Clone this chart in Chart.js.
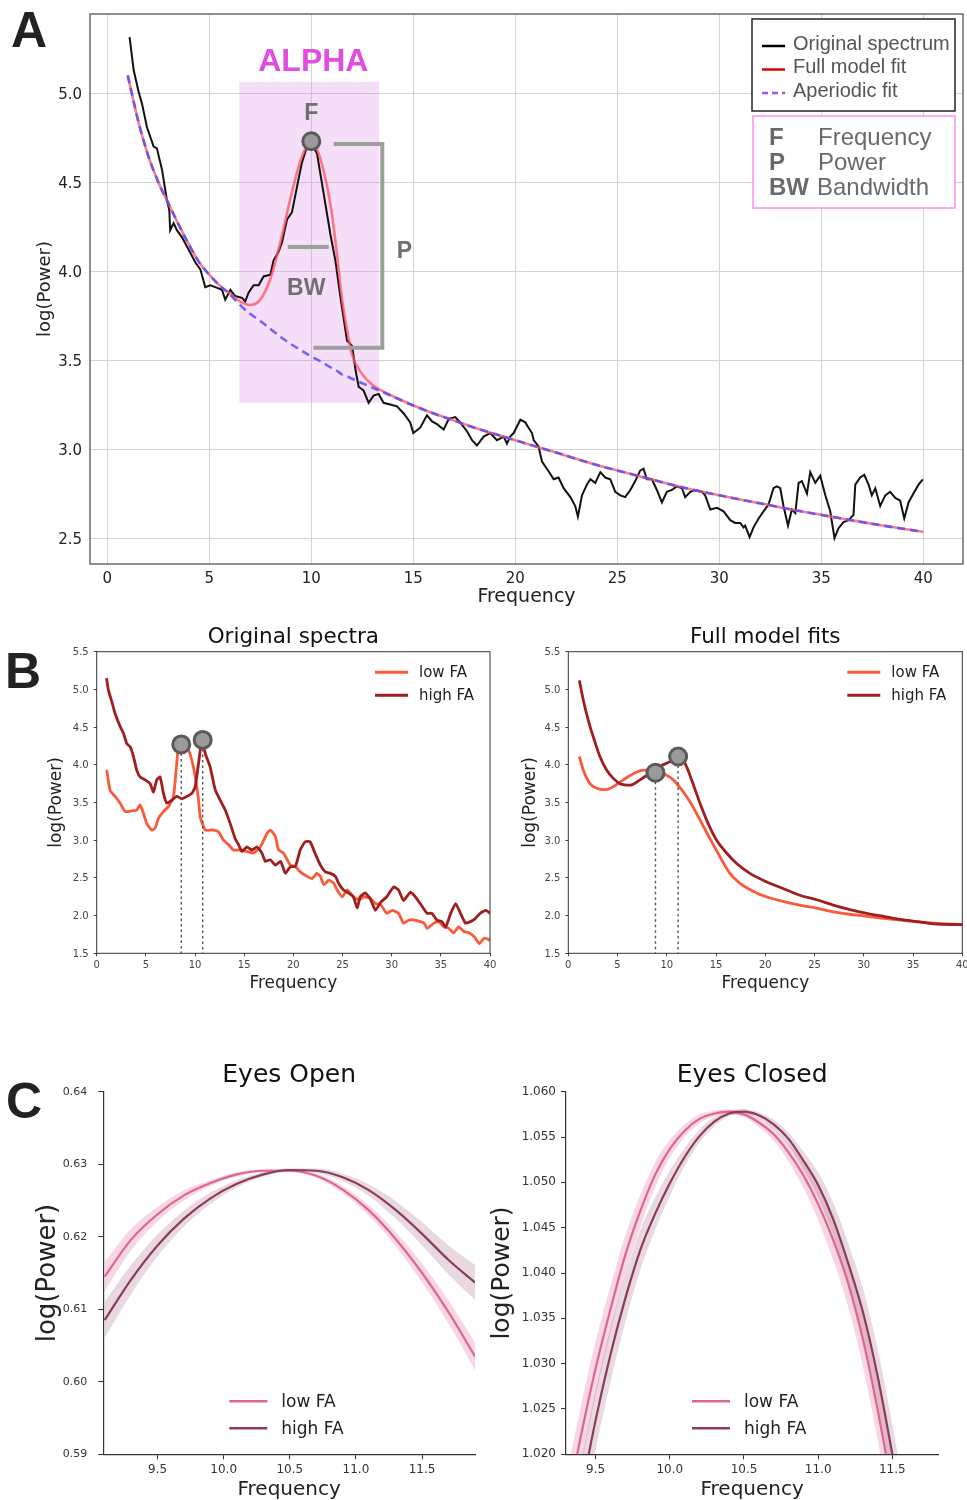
<!DOCTYPE html>
<html>
<head>
<meta charset="utf-8">
<script src="https://cdn.jsdelivr.net/npm/chart.js@4.4.0/dist/chart.umd.min.js"></script>
<style>
  html, body { margin: 0; padding: 0; width: 967px; height: 1500px; overflow: hidden; background: #fff; }
  .panel { position: absolute; }
  .letter { position: absolute; font-family: "Liberation Sans", Arial, sans-serif; font-weight: bold;
            font-size: 50px; line-height: 1; color: #222; }
</style>
</head>
<body>
<div class="letter" style="left:11px; top:5px">A</div>
<div class="letter" style="left:5px; top:646px">B</div>
<div class="letter" style="left:6px; top:1076px">C</div>

<div class="panel" style="left:0; top:0; width:967px; height:620px"><canvas id="chartA"></canvas></div>
<div class="panel" style="left:0; top:615px; width:500px; height:385px"><canvas id="chartB1"></canvas></div>
<div class="panel" style="left:500px; top:615px; width:467px; height:385px"><canvas id="chartB2"></canvas></div>
<div class="panel" style="left:0; top:1040px; width:480px; height:462px"><canvas id="chartC1"></canvas></div>
<div class="panel" style="left:480px; top:1040px; width:487px; height:462px"><canvas id="chartC2"></canvas></div>

<script>
// ---------- Panel A: one spectrum with its model fits ----------
const aOrigFreq = [
  1.09, 1.29, 1.53, 1.70, 1.94, 2.27, 2.43, 2.68, 2.92, 3.04,
  3.08, 3.25, 3.41, 3.66, 3.99, 4.31, 4.56, 4.80, 5.05, 5.29,
  5.62, 5.78, 6.03, 6.27, 6.60, 6.76, 6.93, 7.17, 7.42, 7.66,
  7.99, 8.15, 8.40, 8.56, 8.81, 9.05, 9.30, 9.54, 9.79, 9.95,
  10.28, 10.60, 10.93, 11.18, 11.42, 11.75, 12.00, 12.16, 12.32, 12.56,
  12.81, 13.05, 13.30, 13.54, 13.87, 14.20, 14.53, 14.85, 15.00, 15.34,
  15.67, 15.92, 16.16, 16.49, 16.74, 17.06, 17.30, 17.63, 17.88, 18.12,
  18.45, 18.77, 19.10, 19.43, 19.59, 19.75, 19.92, 20.25, 20.49, 20.65,
  20.82, 20.90, 21.14, 21.31, 21.63, 21.88, 22.12, 22.37, 22.70, 22.94,
  23.07, 23.27, 23.51, 23.68, 23.92, 24.17, 24.41, 24.66, 24.90, 25.15,
  25.39, 25.64, 25.88, 26.13, 26.29, 26.45, 26.70, 26.94, 27.19, 27.43,
  27.68, 27.92, 28.17, 28.33, 28.58, 28.82, 29.15, 29.31, 29.56, 29.89,
  30.21, 30.54, 30.78, 31.03, 31.19, 31.27, 31.49, 31.68, 31.93, 32.17,
  32.42, 32.66, 32.82, 32.99, 33.15, 33.37, 33.56, 33.73, 33.89, 34.05,
  34.30, 34.46, 34.71, 34.95, 35.20, 35.44, 35.65, 35.85, 36.09, 36.34,
  36.58, 36.67, 36.91, 37.11, 37.32, 37.48, 37.65, 37.89, 38.14, 38.38,
  38.63, 38.87, 39.07, 39.28, 39.52, 39.77, 39.98
];
const aOrigPower = [
  5.315, 5.13, 5.01, 4.94, 4.81, 4.70, 4.69, 4.57, 4.40, 4.34,
  4.23, 4.27, 4.23, 4.19, 4.12, 4.05, 4.01, 3.91, 3.92, 3.91,
  3.895, 3.84, 3.895, 3.86, 3.85, 3.83, 3.88, 3.92, 3.92, 3.97,
  3.98, 4.06, 4.11, 4.16, 4.29, 4.33, 4.475, 4.61, 4.70, 4.735,
  4.66, 4.44, 4.21, 4.06, 3.86, 3.61, 3.58, 3.45, 3.35, 3.33,
  3.26, 3.30, 3.31, 3.26, 3.25, 3.24, 3.20, 3.15, 3.09, 3.12,
  3.19, 3.155, 3.14, 3.11, 3.17, 3.18, 3.15, 3.10, 3.05, 3.02,
  3.07, 3.09, 3.05, 3.07, 3.03, 3.07, 3.09, 3.165, 3.15, 3.12,
  3.09, 3.05, 3.015, 2.93, 2.875, 2.83, 2.84, 2.78, 2.73, 2.68,
  2.62, 2.74, 2.80, 2.83, 2.81, 2.87, 2.84, 2.83, 2.76, 2.74,
  2.73, 2.77, 2.82, 2.88, 2.89, 2.83, 2.83, 2.77, 2.70, 2.76,
  2.77, 2.79, 2.78, 2.73, 2.76, 2.77, 2.76, 2.74, 2.66, 2.67,
  2.65, 2.60, 2.585, 2.585, 2.56, 2.57, 2.505, 2.56, 2.61, 2.65,
  2.69, 2.78, 2.79, 2.78, 2.68, 2.57, 2.66, 2.64, 2.81, 2.82,
  2.75, 2.87, 2.81, 2.85, 2.74, 2.65, 2.50, 2.555, 2.59, 2.60,
  2.63, 2.80, 2.84, 2.855, 2.80, 2.74, 2.78, 2.68, 2.74, 2.76,
  2.725, 2.71, 2.61, 2.70, 2.75, 2.80, 2.83
];
const aFitFreq = [1, 1.5, 2, 2.5, 3, 3.5, 4, 4.5, 5, 5.5, 6, 6.5, 7, 7.5, 8, 8.5, 9, 9.5, 10, 10.5,
  11, 11.25, 11.5, 11.75, 12, 12.5, 13, 13.5, 14, 15, 16, 17, 18, 19, 20, 22, 24, 26, 28, 30, 32, 34, 36, 38, 40];
const aAperiodic = [5.10, 4.85, 4.65, 4.50, 4.38, 4.26, 4.15, 4.05, 3.98, 3.92, 3.87, 3.81, 3.76, 3.72, 3.675, 3.63, 3.59, 3.555, 3.52, 3.49,
  3.455, 3.44, 3.42, 3.41, 3.395, 3.37, 3.345, 3.32, 3.295, 3.245, 3.20, 3.16, 3.12, 3.085, 3.05, 2.98, 2.91, 2.85, 2.79, 2.74, 2.695, 2.65, 2.61, 2.57, 2.535];
const aFullFit = [5.10, 4.85, 4.65, 4.50, 4.38, 4.26, 4.15, 4.05, 3.98, 3.92, 3.875, 3.83, 3.81, 3.84, 3.96, 4.17, 4.42, 4.63, 4.73, 4.61,
  4.33, 4.10, 3.85, 3.67, 3.53, 3.42, 3.36, 3.325, 3.297, 3.245, 3.20, 3.16, 3.12, 3.085, 3.05, 2.98, 2.91, 2.85, 2.79, 2.74, 2.695, 2.65, 2.61, 2.57, 2.535];
const aXTicks = [0, 5, 10, 15, 20, 25, 30, 35, 40];
const aYTicks = [2.5, 3.0, 3.5, 4.0, 4.5, 5.0];
const alphaFreq = [6.47, 13.33];
const alphaPower = [3.26, 5.064];
const peakFreq = 10.0, peakPower = 4.73;
const bwFreq = [8.85, 10.85], bwPower = 4.135;
const pPower = [4.715, 3.57];

// ---------- Panel B: low vs high FA ----------
const bOrigLowFreq = [1.02, 1.36, 1.87, 2.38, 2.89, 3.57, 4.07, 4.41, 4.75, 5.09,
  5.60, 5.94, 6.28, 6.79, 7.30, 7.81, 8.08, 8.25, 8.6, 9.0,
  9.34, 9.68, 10.02, 10.36, 10.53, 11.04, 11.88, 12.39, 12.9, 13.41,
  13.92, 14.6, 15.28, 15.96, 16.64, 17.32, 17.66, 18.17, 18.5, 19.0,
  19.69, 20.2, 20.7, 21.4, 21.9, 22.4, 22.75, 23.1, 23.6, 24.1,
  24.45, 24.96, 25.5, 26.1, 26.65, 27.2, 27.8, 28.35, 28.9, 29.5,
  30.05, 30.7, 31.2, 31.75, 32.4, 33.3, 33.6, 34.3, 34.8, 35.3,
  35.8, 36.3, 36.8, 37.35, 37.9, 38.4, 38.9, 39.4, 39.9, 40.0];
const bOrigLow = [3.93, 3.66, 3.58, 3.49, 3.38, 3.39, 3.40, 3.47, 3.36, 3.22,
  3.135, 3.16, 3.29, 3.38, 3.445, 3.58, 3.93, 4.17, 4.30, 4.28,
  4.20, 4.06, 3.84, 3.53, 3.31, 3.135, 3.135, 3.11, 3.00, 2.94,
  2.87, 2.87, 2.85, 2.83, 2.91, 3.09, 3.135, 3.05, 2.87, 2.83,
  2.67, 2.65, 2.58, 2.52, 2.49, 2.56, 2.52, 2.41, 2.47, 2.43,
  2.34, 2.25, 2.34, 2.25, 2.21, 2.25, 2.23, 2.16, 2.14, 2.03,
  2.07, 2.03, 1.90, 1.94, 1.94, 1.90, 1.83, 1.90, 1.92, 1.85,
  1.83, 1.77, 1.85, 1.79, 1.77, 1.72, 1.63, 1.70, 1.68, 1.66];
const bOrigHighFreq = [1.0, 1.19, 1.53, 1.87, 2.38, 2.72, 3.06, 3.40, 3.74, 4.07,
  4.41, 4.92, 5.43, 5.77, 6.11, 6.45, 6.79, 7.13, 7.64, 8.15,
  8.66, 9.17, 9.68, 10.02, 10.36, 10.70, 11.04, 11.54, 12.05, 12.56,
  13.07, 13.58, 14.09, 14.43, 14.77, 15.28, 15.79, 16.3, 16.8, 17.15,
  17.66, 18.17, 18.7, 19.2, 19.7, 20.2, 20.7, 21.2, 21.7, 22.2,
  22.75, 23.26, 23.77, 24.28, 24.6, 25.1, 25.6, 26.1, 26.5, 26.8,
  27.3, 27.8, 28.35, 28.9, 29.5, 30.2, 30.7, 31.2, 31.9, 32.4,
  32.9, 33.6, 34.1, 34.6, 35.1, 35.5, 36.0, 36.5, 37.0, 37.5,
  38.0, 38.5, 39.0, 39.6, 40.0];
const bOrigHigh = [5.15, 4.99, 4.84, 4.68, 4.51, 4.42, 4.28, 4.24, 4.11, 3.93,
  3.84, 3.80, 3.75, 3.64, 3.80, 3.84, 3.62, 3.49, 3.53, 3.58,
  3.55, 3.58, 3.62, 3.71, 4.02, 4.33, 4.15, 3.97, 3.67, 3.53,
  3.40, 3.22, 3.02, 2.94, 2.85, 2.91, 2.87, 2.91, 2.83, 2.72,
  2.74, 2.67, 2.72, 2.56, 2.65, 2.65, 2.87, 2.98, 2.98, 2.83,
  2.67, 2.58, 2.56, 2.52, 2.43, 2.34, 2.30, 2.25, 2.10, 2.25,
  2.30, 2.23, 2.07, 2.18, 2.25, 2.38, 2.34, 2.20, 2.31, 2.25,
  2.16, 2.03, 2.03, 1.94, 1.92, 1.85, 2.03, 2.16, 2.03, 1.90,
  1.92, 1.96, 2.03, 2.07, 2.03];
const bFitLowFreq = [1.12, 1.52, 2.2, 2.88, 3.72, 4.57, 5.58, 6.6, 7.6, 8.8,
  9.98, 10.66, 11.5, 12.35, 13.37, 14.38, 15.4, 16.4, 17.4, 18.8,
  20.1, 21.8, 23.5, 25.2, 26.9, 30.3, 33.7, 37.1, 40];
const bFitLow = [4.11, 3.93, 3.75, 3.69, 3.67, 3.71, 3.80, 3.88, 3.93, 3.92,
  3.86, 3.80, 3.67, 3.51, 3.27, 3.02, 2.78, 2.56, 2.43, 2.32,
  2.25, 2.19, 2.14, 2.10, 2.05, 1.99, 1.94, 1.90, 1.88];
const bFitHighFreq = [1.12, 1.52, 2.03, 2.54, 3.21, 3.89, 4.57, 5.25, 6.26, 7.28,
  8.29, 9.31, 10.32, 11.17, 11.84, 12.52, 13.37, 14.2, 15.06, 16.07,
  17.09, 18.44, 20.1, 21.8, 23.5, 25.2, 26.9, 28.6, 30.3, 32.0,
  33.7, 35.4, 37.1, 40];
const bFitHigh = [5.12, 4.86, 4.59, 4.37, 4.11, 3.93, 3.82, 3.75, 3.73, 3.80,
  3.89, 3.98, 4.04, 4.10, 4.02, 3.80, 3.49, 3.22, 3.00, 2.83,
  2.69, 2.56, 2.45, 2.36, 2.27, 2.21, 2.14, 2.08, 2.03, 1.99,
  1.95, 1.92, 1.89, 1.88];
const bPeakOrigFreq = [8.6, 10.78], bPeakOrigPower = [4.27, 4.33];
const bPeakFitFreq = [8.85, 11.15], bPeakFitPower = [3.895, 4.11];
const bXTicks = [0, 5, 10, 15, 20, 25, 30, 35, 40];
const bYTicks = [1.5, 2.0, 2.5, 3.0, 3.5, 4.0, 4.5, 5.0, 5.5];

// ---------- Panel C: alpha peak close-ups ----------
const eoFreq = [9.1, 9.3, 9.5, 9.7, 9.9, 10.1, 10.3, 10.5, 10.7, 10.9, 11.1, 11.3, 11.5, 11.7, 11.9];
const eoLow = [0.6145, 0.6196, 0.6231, 0.6257, 0.6274, 0.6286, 0.6291, 0.6291, 0.6284, 0.6265, 0.6236, 0.6197, 0.6150, 0.6096, 0.6035];
const eoLowErr = [0.0020, 0.0015, 0.0010, 0.0007, 0.0004, 0.0003, 0.0002, 0.0002, 0.0003, 0.0005, 0.0007, 0.0010, 0.0013, 0.0016, 0.0019];
const eoHigh = [0.6085, 0.6141, 0.6188, 0.6225, 0.6253, 0.6273, 0.6286, 0.6292, 0.6291, 0.6282, 0.6264, 0.6237, 0.6204, 0.6168, 0.6137];
const eoHighErr = [0.0025, 0.0020, 0.0015, 0.0011, 0.0008, 0.0005, 0.0003, 0.0002, 0.0003, 0.0005, 0.0008, 0.0012, 0.0016, 0.0020, 0.0024];
const eoXTicks = [9.5, 10.0, 10.5, 11.0, 11.5];
const eoYTicks = [0.59, 0.60, 0.61, 0.62, 0.63, 0.64];

const ecFreq = [9.3, 9.4, 9.5, 9.6, 9.7, 9.8, 9.9, 10.0, 10.1, 10.2, 10.3, 10.4,
  10.5, 10.6, 10.7, 10.8, 10.9, 11.0, 11.1, 11.2, 11.3, 11.4, 11.5, 11.6];
const ecLow = [1.0138, 1.0220, 1.0295, 1.0360, 1.0420, 1.0468, 1.0508, 1.0537, 1.0557, 1.0570, 1.0576, 1.0578,
  1.0575, 1.0566, 1.0553, 1.0533, 1.0508, 1.0476, 1.0437, 1.0390, 1.0328, 1.0250, 1.0160, 1.0060];
const ecLowErr = [0.0036, 0.0033, 0.0030, 0.0026, 0.0022, 0.0018, 0.0014, 0.0010, 0.0007, 0.0005, 0.0003, 0.0003,
  0.0003, 0.0005, 0.0007, 0.0010, 0.0014, 0.0018, 0.0022, 0.0026, 0.0030, 0.0033, 0.0036, 0.0038];
const ecHigh = [1.0070, 1.0155, 1.0238, 1.0310, 1.0372, 1.0425, 1.0465, 1.0499, 1.0528, 1.0551, 1.0567, 1.0576,
  1.0578, 1.0574, 1.0564, 1.0548, 1.0524, 1.0497, 1.0460, 1.0412, 1.0358, 1.0287, 1.0200, 1.0105];
const ecHighErr = [0.0038, 0.0036, 0.0033, 0.0030, 0.0026, 0.0022, 0.0018, 0.0014, 0.0010, 0.0007, 0.0005, 0.0003,
  0.0003, 0.0003, 0.0005, 0.0007, 0.0010, 0.0014, 0.0018, 0.0022, 0.0026, 0.0030, 0.0033, 0.0036];
const ecXTicks = [9.5, 10.0, 10.5, 11.0, 11.5];
const ecYTicks = [1.020, 1.025, 1.030, 1.035, 1.040, 1.045, 1.050, 1.055, 1.060];

// colours
const LOW_B = '#fb5a3a', HIGH_B = '#a11e1e';
const LOW_C = '#df6490', HIGH_C = '#8b3c5d';

Chart.defaults.font.family = 'DejaVu Sans';
Chart.defaults.animation = false;

function pts(xs, ys) { return xs.map((x, i) => ({ x: x, y: ys[i] })); }
function plus(ys, es, sign) { return ys.map((v, i) => v + sign * es[i]); }

// fix the axis box size so the plot areas land where the figure has them
function fixAxis(size) {
  return function (scale) {
    if (scale.isHorizontal()) scale.height = size; else scale.width = size;
    scale.paddingLeft = 0; scale.paddingRight = 0; scale.paddingTop = 0; scale.paddingBottom = 0;
  };
}
function useTicks(values) {
  return function (scale) { scale.ticks = values.map(v => ({ value: v })); };
}

function frame(color, width) {
  return {
    id: 'frame',
    afterDatasetsDraw(chart) {
      const { ctx, chartArea: a } = chart;
      ctx.save();
      ctx.strokeStyle = color; ctx.lineWidth = width;
      ctx.strokeRect(a.left, a.top, a.right - a.left, a.bottom - a.top);
      ctx.restore();
    }
  };
}

function lineLegend(items, fromRight, rows, font) {
  // items: [{label, color, width, dash}]
  return {
    id: 'lineLegend',
    afterDatasetsDraw(chart) {
      const { ctx, chartArea: a } = chart;
      ctx.save();
      ctx.font = font;
      ctx.textBaseline = 'middle';
      ctx.fillStyle = '#222';
      items.forEach((it, i) => {
        const x0 = fromRight ? a.right + fromRight[0] : a.left + rows.left[0];
        const x1 = fromRight ? a.right + fromRight[1] : a.left + rows.left[1];
        const xt = fromRight ? a.right + fromRight[2] : a.left + rows.left[2];
        const y = fromRight ? a.top + rows[i] : a.bottom + rows.y[i];
        ctx.strokeStyle = it.color; ctx.lineWidth = it.width; ctx.setLineDash(it.dash || []);
        ctx.beginPath(); ctx.moveTo(x0, y); ctx.lineTo(x1, y); ctx.stroke();
        ctx.fillText(it.label, xt, y + 1);
      });
      ctx.restore();
    }
  };
}

function peaks(freqs, pows) {
  return {
    id: 'peaks',
    afterDatasetsDraw(chart) {
      const { ctx, chartArea: a, scales: { x, y } } = chart;
      ctx.save();
      ctx.strokeStyle = '#555'; ctx.lineWidth = 1.4; ctx.setLineDash([2.5, 3]);
      freqs.forEach((f, i) => {
        const px = x.getPixelForValue(f), py = y.getPixelForValue(pows[i]);
        ctx.beginPath(); ctx.moveTo(px, py + 9); ctx.lineTo(px, a.bottom); ctx.stroke();
      });
      ctx.setLineDash([]);
      freqs.forEach((f, i) => {
        const px = x.getPixelForValue(f), py = y.getPixelForValue(pows[i]);
        ctx.beginPath(); ctx.arc(px, py, 8.5, 0, Math.PI * 2);
        ctx.fillStyle = '#9a9a9a'; ctx.fill();
        ctx.lineWidth = 3; ctx.strokeStyle = '#5a5a5a'; ctx.stroke();
      });
      ctx.restore();
    }
  };
}

// ---------- Chart A ----------
const alphaDecor = {
  id: 'alphaDecor',
  beforeDatasetsDraw(chart) {
    const { ctx, scales: { x, y } } = chart;
    const x0 = x.getPixelForValue(alphaFreq[0]), x1 = x.getPixelForValue(alphaFreq[1]);
    const y0 = y.getPixelForValue(alphaPower[1]), y1 = y.getPixelForValue(alphaPower[0]);
    ctx.save();
    ctx.fillStyle = 'rgba(214,128,226,0.25)';
    ctx.fillRect(x0, y0, x1 - x0, y1 - y0);
    ctx.restore();
  },
  afterDatasetsDraw(chart) {
    const { ctx, chartArea: a, scales: { x, y } } = chart;
    ctx.save();
    // P bracket and BW bar
    ctx.strokeStyle = '#9e9e9e'; ctx.lineWidth = 4; ctx.lineCap = 'butt';
    const px = x.getPixelForValue(13.48);
    ctx.beginPath();
    ctx.moveTo(x.getPixelForValue(11.1), y.getPixelForValue(pPower[0]));
    ctx.lineTo(px, y.getPixelForValue(pPower[0]));
    ctx.lineTo(px, y.getPixelForValue(pPower[1]));
    ctx.lineTo(x.getPixelForValue(10.1), y.getPixelForValue(pPower[1]));
    ctx.stroke();
    ctx.beginPath();
    ctx.moveTo(x.getPixelForValue(bwFreq[0]), y.getPixelForValue(bwPower));
    ctx.lineTo(x.getPixelForValue(bwFreq[1]), y.getPixelForValue(bwPower));
    ctx.stroke();
    // peak marker
    const cx = x.getPixelForValue(peakFreq), cy = y.getPixelForValue(peakPower);
    ctx.beginPath(); ctx.arc(cx, cy, 8.5, 0, Math.PI * 2);
    ctx.fillStyle = '#9a9a9a'; ctx.fill();
    ctx.lineWidth = 3; ctx.strokeStyle = '#5a5a5a'; ctx.stroke();
    // labels
    ctx.textAlign = 'center'; ctx.textBaseline = 'middle';
    ctx.fillStyle = '#707070';
    ctx.font = 'bold 23px "Liberation Sans", Arial, sans-serif';
    ctx.fillText('F', cx, y.getPixelForValue(4.895) + 2);
    ctx.fillText('BW', x.getPixelForValue(9.75), y.getPixelForValue(3.91) + 2);
    ctx.fillText('P', x.getPixelForValue(14.56), y.getPixelForValue(4.12) + 2);
    ctx.fillStyle = '#e04de0';
    ctx.font = 'bold 32px "Liberation Sans", Arial, sans-serif';
    ctx.fillText('ALPHA', x.getPixelForValue(10.1), y.getPixelForValue(5.187) + 2);

    // legend box 1
    const lx = a.right - 211, ly = a.top + 5;
    ctx.fillStyle = '#fff';
    ctx.fillRect(lx, ly, 203, 92);
    ctx.strokeStyle = '#222'; ctx.lineWidth = 1.5;
    ctx.strokeRect(lx, ly, 203, 92);
    const leg = [
      { t: 'Original spectrum', c: '#000', d: [] },
      { t: 'Full model fit', c: '#d80000', d: [] },
      { t: 'Aperiodic fit', c: '#9b55f0', d: [6, 4] }
    ];
    ctx.font = '20px "Liberation Sans", Arial, sans-serif';
    ctx.textAlign = 'left';
    leg.forEach((it, i) => {
      const yy = ly + 26 + i * 23.5;
      ctx.strokeStyle = it.c; ctx.lineWidth = 2.5; ctx.setLineDash(it.d);
      ctx.beginPath(); ctx.moveTo(lx + 10, yy + 1); ctx.lineTo(lx + 33, yy + 1); ctx.stroke();
      ctx.fillStyle = '#555';
      ctx.fillText(it.t, lx + 41, yy - 1);
    });
    ctx.setLineDash([]);
    // legend box 2
    const my = a.top + 102;
    ctx.fillStyle = '#fff';
    ctx.fillRect(lx + 1, my, 202, 92);
    ctx.strokeStyle = '#ff8cf5'; ctx.lineWidth = 1.5;
    ctx.strokeRect(lx + 1, my, 202, 92);
    const key = [['F', 'Frequency'], ['P', 'Power'], ['BW', 'Bandwidth']];
    key.forEach((k, i) => {
      const yy = my + 22 + i * 25;
      ctx.fillStyle = '#6a6a6a';
      ctx.font = 'bold 24px "Liberation Sans", Arial, sans-serif';
      ctx.fillText(k[0], lx + 17, yy);
      ctx.font = '24px "Liberation Sans", Arial, sans-serif';
      ctx.fillText(k[1], lx + 66 - (i === 2 ? 1 : 0), yy);
    });
    ctx.restore();
  }
};

new Chart(document.getElementById('chartA'), {
  type: 'line',
  data: {
    datasets: [
      { label: 'Aperiodic fit', data: pts(aFitFreq, aAperiodic), borderColor: 'rgba(92,78,245,0.85)',
        borderWidth: 2.6, borderDash: [8, 5], pointRadius: 0, cubicInterpolationMode: 'monotone', order: 0 },
      { label: 'Full model fit', data: pts(aFitFreq, aFullFit), borderColor: 'rgba(255,80,95,0.75)',
        borderWidth: 2.6, pointRadius: 0, cubicInterpolationMode: 'monotone', order: 1 },
      { label: 'Original spectrum', data: pts(aOrigFreq, aOrigPower), borderColor: '#111',
        borderWidth: 2, pointRadius: 0, tension: 0, order: 2 }
    ]
  },
  options: {
    responsive: true, maintainAspectRatio: false,
    layout: { padding: { left: 0, right: 4, top: 14, bottom: 0 } },
    plugins: { legend: { display: false }, tooltip: { enabled: false } },
    scales: {
      x: {
        type: 'linear', min: -0.85, max: 41.95,
        afterBuildTicks: useTicks(aXTicks), afterFit: fixAxis(56),
        grid: { color: '#d3d3d3', lineWidth: 1, tickLength: 4, tickColor: 'rgba(0,0,0,0)' },
        border: { display: false },
        ticks: { font: { size: 15 }, color: '#222', padding: 2, maxRotation: 0 },
        title: { display: true, text: 'Frequency', font: { size: 19 }, color: '#222', padding: { top: 0, bottom: 11.6 } }
      },
      y: {
        type: 'linear', min: 2.354, max: 5.445,
        afterBuildTicks: useTicks(aYTicks), afterFit: fixAxis(90),
        grid: { color: '#d3d3d3', lineWidth: 1, tickLength: 5, tickColor: 'rgba(0,0,0,0)' },
        border: { display: false },
        ticks: { font: { size: 15 }, color: '#222', padding: 3, labelOffset: 2, callback: v => v.toFixed(1) },
        title: { display: true, text: 'log(Power)', font: { size: 18 }, color: '#222', padding: { top: 34.2, bottom: 0 } }
      }
    }
  },
  plugins: [alphaDecor, frame('#555', 1.3)]
});

// ---------- Chart B ----------
function bOptions(title, yAxisWidth, yTitlePad, rightPad) {
  return {
    responsive: true, maintainAspectRatio: false,
    layout: { padding: { left: 0, right: rightPad, top: 0, bottom: 0 } },
    plugins: {
      legend: { display: false }, tooltip: { enabled: false },
      title: { display: true, text: title, fullSize: false, color: '#111',
               font: { size: 21.5, weight: 'normal' }, padding: { top: 9.1, bottom: 1.8 } }
    },
    scales: {
      x: {
        type: 'linear', min: 0, max: 40,
        afterBuildTicks: useTicks(bXTicks), afterFit: fixAxis(46.7),
        grid: { drawOnChartArea: false, tickLength: 3, color: '#444' },
        border: { display: false },
        ticks: { font: { size: 10 }, color: '#444', padding: 3, maxRotation: 0 },
        title: { display: true, text: 'Frequency', font: { size: 17 }, color: '#222', padding: { top: 0, bottom: 6.5 } }
      },
      y: {
        type: 'linear', min: 1.5, max: 5.5,
        afterBuildTicks: useTicks(bYTicks), afterFit: fixAxis(yAxisWidth),
        grid: { drawOnChartArea: false, tickLength: 3, color: '#444' },
        border: { display: false },
        ticks: { font: { size: 10 }, color: '#444', padding: 5, labelOffset: 1, callback: v => v.toFixed(1) },
        title: { display: true, text: 'log(Power)', font: { size: 17 }, color: '#222', padding: { top: yTitlePad, bottom: 0 } }
      }
    }
  };
}
const bLegendItems = [
  { label: 'low FA', color: LOW_B, width: 3 },
  { label: 'high FA', color: HIGH_B, width: 3 }
];

new Chart(document.getElementById('chartB1'), {
  type: 'line',
  data: {
    datasets: [
      { label: 'low FA', data: pts(bOrigLowFreq, bOrigLow), borderColor: LOW_B, borderWidth: 2.8, pointRadius: 0, tension: 0.15, order: 1 },
      { label: 'high FA', data: pts(bOrigHighFreq, bOrigHigh), borderColor: HIGH_B, borderWidth: 2.8, pointRadius: 0, tension: 0.15, order: 0 }
    ]
  },
  options: bOptions('Original spectra', 96.7, 46.8, 10),
  plugins: [frame('#333', 1), peaks(bPeakOrigFreq, bPeakOrigPower),
            lineLegend(bLegendItems, [-115, -82, -71], [20.5, 43.5], '15px "DejaVu Sans"')]
});

new Chart(document.getElementById('chartB2'), {
  type: 'line',
  data: {
    datasets: [
      { label: 'low FA', data: pts(bFitLowFreq, bFitLow), borderColor: LOW_B, borderWidth: 2.8, pointRadius: 0, cubicInterpolationMode: 'monotone', order: 1 },
      { label: 'high FA', data: pts(bFitHighFreq, bFitHigh), borderColor: HIGH_B, borderWidth: 2.8, pointRadius: 0, cubicInterpolationMode: 'monotone', order: 0 }
    ]
  },
  options: bOptions('Full model fits', 68.3, 20.6, 4.7),
  plugins: [frame('#333', 1), peaks(bPeakFitFreq, bPeakFitPower),
            lineLegend(bLegendItems, [-115, -82, -71], [20.5, 43.5], '15px "DejaVu Sans"')]
});

// ---------- Chart C ----------
function cDatasets(freq, low, lowErr, high, highErr) {
  return [
    { label: 'low band hi', data: pts(freq, plus(low, lowErr, 1)), borderWidth: 0, pointRadius: 0,
      cubicInterpolationMode: 'monotone', backgroundColor: 'rgba(228,112,155,0.28)', fill: '+1', order: 5 },
    { label: 'low band lo', data: pts(freq, plus(low, lowErr, -1)), borderWidth: 0, pointRadius: 0,
      cubicInterpolationMode: 'monotone', fill: false, order: 5 },
    { label: 'high band hi', data: pts(freq, plus(high, highErr, 1)), borderWidth: 0, pointRadius: 0,
      cubicInterpolationMode: 'monotone', backgroundColor: 'rgba(140,62,95,0.2)', fill: '+1', order: 4 },
    { label: 'high band lo', data: pts(freq, plus(high, highErr, -1)), borderWidth: 0, pointRadius: 0,
      cubicInterpolationMode: 'monotone', fill: false, order: 4 },
    { label: 'low FA', data: pts(freq, low), borderColor: LOW_C, borderWidth: 2.2, pointRadius: 0,
      cubicInterpolationMode: 'monotone', fill: false, order: 1 },
    { label: 'high FA', data: pts(freq, high), borderColor: HIGH_C, borderWidth: 2.2, pointRadius: 0,
      cubicInterpolationMode: 'monotone', fill: false, order: 0 }
  ];
}
function cOptions(title, xr, yr, xTicks, yTicks, yDigits, yAxisWidth, yTitlePad, yTitleSize, yTickSize, yTickPad, rightPad) {
  return {
    responsive: true, maintainAspectRatio: false,
    layout: { padding: { left: 0, right: rightPad, top: 0, bottom: 0 } },
    plugins: {
      legend: { display: false }, tooltip: { enabled: false },
      title: { display: true, text: title, fullSize: false, color: '#111',
               font: { size: 25, weight: 'normal' }, padding: { top: 20, bottom: 1.7 } }
    },
    scales: {
      x: {
        type: 'linear', min: xr[0], max: xr[1],
        afterBuildTicks: useTicks(xTicks), afterFit: fixAxis(47.7),
        grid: { drawOnChartArea: false, tickLength: 5, color: '#333' },
        border: { display: true, color: '#333', width: 1.2 },
        ticks: { font: { size: 12 }, color: '#333', padding: 3, maxRotation: 0, callback: v => v.toFixed(1) },
        title: { display: true, text: 'Frequency', font: { size: 20 }, color: '#222', padding: { top: 0, bottom: 0 } }
      },
      y: {
        type: 'linear', min: yr[0], max: yr[1],
        afterBuildTicks: useTicks(yTicks), afterFit: fixAxis(yAxisWidth),
        grid: { drawOnChartArea: false, tickLength: 5, color: '#333' },
        border: { display: true, color: '#333', width: 1.2 },
        ticks: { font: { size: yTickSize }, color: '#333', padding: yTickPad, callback: v => v.toFixed(yDigits) },
        title: { display: true, text: 'log(Power)', font: { size: yTitleSize }, color: '#222', padding: { top: yTitlePad, bottom: 0 } }
      }
    }
  };
}
const cLegendItems = [
  { label: 'low FA', color: LOW_C, width: 2.5 },
  { label: 'high FA', color: HIGH_C, width: 2.5 }
];
const cLegendRows = { left: [126, 164, 178], y: [-53, -26] };

new Chart(document.getElementById('chartC1'), {
  type: 'line',
  data: { datasets: cDatasets(eoFreq, eoLow, eoLowErr, eoHigh, eoHighErr) },
  options: cOptions('Eyes Open', [9.09, 11.9], [0.59, 0.64], eoXTicks, eoYTicks, 2, 103.3, 32.4, 26, 11, 11, 5),
  plugins: [lineLegend(cLegendItems, null, cLegendRows, '17px "DejaVu Sans"')]
});

new Chart(document.getElementById('chartC2'), {
  type: 'line',
  data: { datasets: cDatasets(ecFreq, ecLow, ecLowErr, ecHigh, ecHighErr) },
  options: cOptions('Eyes Closed', [9.3, 11.81], [1.020, 1.060], ecXTicks, ecYTicks, 3, 86, 7, 25, 12, 5, 28.7),
  plugins: [lineLegend(cLegendItems, null, cLegendRows, '17px "DejaVu Sans"')]
});
</script>
</body>
</html>
